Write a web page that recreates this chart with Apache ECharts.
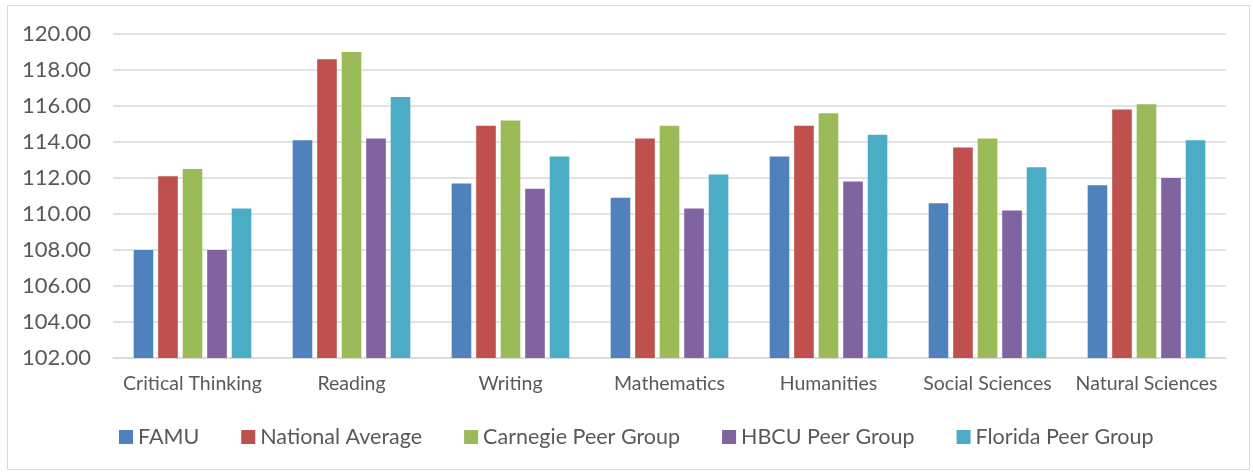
<!DOCTYPE html>
<html>
<head>
<meta charset="utf-8">
<script src="https://cdn.jsdelivr.net/npm/echarts@6/dist/echarts.min.js"></script>
<style>
  html, body { margin: 0; padding: 0; background: #fff; }
  #frame {
    position: absolute; left: 7px; top: 5px;
    width: 1243px; height: 465px;
    border: 1px solid #d9d9d9; box-sizing: border-box;
  }
  #chart { position: absolute; left: 0; top: 0; width: 1253px; height: 473px; }
</style>
</head>
<body>
<div id="frame"></div>
<div id="chart"></div>
<script>
// 类别 / categories
const categories = ["Critical Thinking", "Reading", "Writing", "Mathematics", "Humanities", "Social Sciences", "Natural Sciences"];
// 各组数据 / series values
const famu = [108.0, 114.1, 111.7, 110.9, 113.2, 110.6, 111.6];
const nationalAvg = [112.1, 118.6, 114.9, 114.2, 114.9, 113.7, 115.8];
const carnegie = [112.5, 119.0, 115.2, 114.9, 115.6, 114.2, 116.1];
const hbcu = [108.0, 114.2, 111.4, 110.3, 111.8, 110.2, 112.0];
const florida = [110.3, 116.5, 113.2, 112.2, 114.4, 112.6, 114.1];
const seriesNames = ["FAMU", "National Average", "Carnegie Peer Group", "HBCU Peer Group", "Florida Peer Group"];
const seriesColors = ["#4F81BD", "#C0504D", "#9BBB59", "#8064A2", "#4BACC6"];

const chart = echarts.init(document.getElementById("chart"));
const textColor = "#595959";
const fontFamily = "Lato, 'Open Sans', sans-serif";

const allData = [famu, nationalAvg, carnegie, hbcu, florida];
const series = allData.map((d, i) => ({
  name: seriesNames[i],
  type: "bar",
  data: d,
  barGap: "25%",
  barCategoryGap: "26%",
  itemStyle: { color: seriesColors[i] },
}));

chart.setOption({
  animation: false,
  textStyle: { fontFamily: fontFamily },
  grid: { left: 113, right: 27, top: 34, bottom: 115 },
  legend: {
    bottom: 20,
    left: 114,
    icon: "rect",
    itemWidth: 14,
    itemHeight: 14,
    itemGap: 42,
    textStyle: { color: textColor, fontSize: 21.5, fontFamily: fontFamily },
    data: seriesNames,
  },
  xAxis: {
    type: "category",
    data: categories,
    axisLine: { lineStyle: { color: "#d9d9d9", width: 1.5 } },
    axisTick: { show: false },
    axisLabel: { color: textColor, fontSize: 19.5, margin: 16, interval: 0 },
  },
  yAxis: {
    type: "value",
    min: 102,
    max: 120,
    interval: 2,
    axisLine: { show: false },
    axisTick: { show: false },
    axisLabel: {
      color: textColor,
      fontSize: 22,
      margin: 22,
      formatter: (v) => v.toFixed(2),
    },
    splitLine: { lineStyle: { color: "#d9d9d9", width: 1.5 } },
  },
  series: series,
});
</script>
</body>
</html>
